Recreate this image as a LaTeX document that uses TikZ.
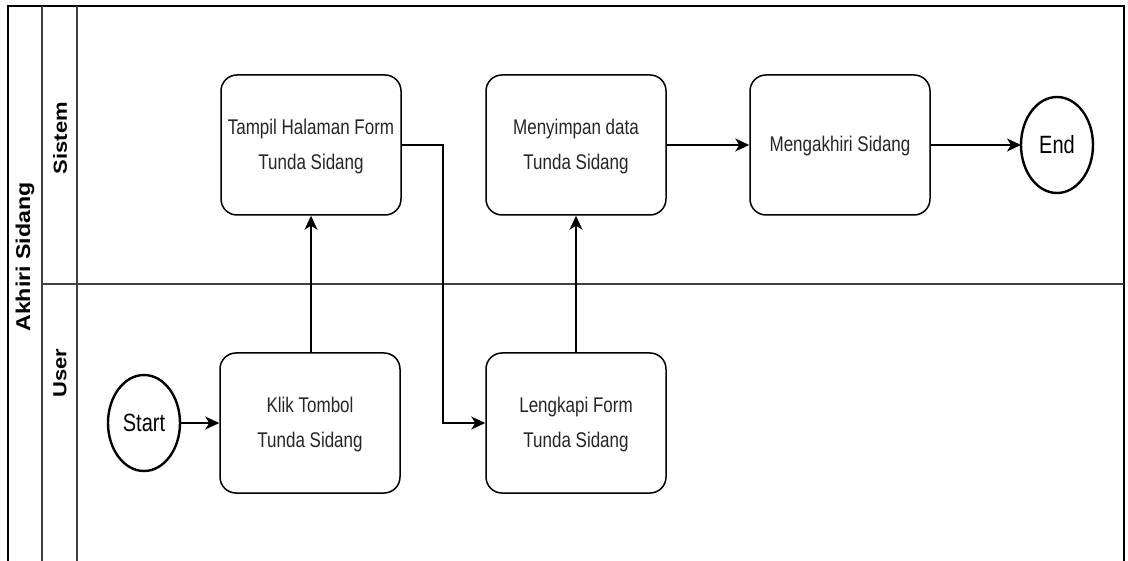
\documentclass[tikz,border=0pt]{standalone}
\usepackage{fontspec}
\setmainfont{Liberation Sans}
\usetikzlibrary{arrows.meta}
\newcommand\boxtxt[1]{\scalebox{1}[1.25]{\begin{tabular}{@{}c@{}}#1\end{tabular}}}
\newcommand\vlbl[2]{\rotatebox{90}{\scalebox{1.22}[1.05]{\fontsize{#1}{#1}\selectfont\bfseries #2}}}
\tikzset{
  x=1pt, y=-1pt,
  stepbox/.style={draw=black, line width=1.5pt, rounded corners=16pt, minimum width=180pt, minimum height=140pt, inner sep=0pt, font=\fontsize{17}{28}\selectfont, text=black!85},
  termtext/.style={inner sep=0pt, font=\fontsize{20}{20}\selectfont},
  conn/.style={line width=1.5pt, -{Stealth[length=14pt,width=13pt,inset=4pt]}},
  lane/.style={line width=2pt, draw=black!75},
}
\begin{document}
\begin{tikzpicture}
\useasboundingbox (0,0) rectangle (1128,561);
\fill[white] (0,0) rectangle (1128,561);
% pool frame
\draw[line width=2pt, black] (8,561) -- (8,6) -- (1124,6) -- (1124,561);
\draw[lane] (42,6) -- (42,561);
\draw[lane] (77,6) -- (77,561);
\draw[lane] (42,284) -- (1124,284);
% labels
\node[inner sep=0pt] (pool) at (25,257) {\vlbl{19}{Akhiri Sidang}};
\node[inner sep=0pt] (sis) at (60,138) {\vlbl{18}{Sistem}};
\node[inner sep=0pt] (usr) at (60,373) {\vlbl{18}{User}};
% terminals
\draw[line width=2.4pt] (144,423) ellipse (36pt and 48pt);
\node[termtext] (start) at (144,423) {\scalebox{1}[1.25]{Start}};
\coordinate (startE) at (180,423);
\draw[line width=2.4pt] (1057,145) ellipse (36pt and 48pt);
\node[termtext] (end) at (1057,145) {\scalebox{1}[1.25]{End}};
\coordinate (endW) at (1021,145);
% steps
\node[stepbox] (tampil) at (311,145) {\boxtxt{Tampil Halaman Form\\Tunda Sidang}};
\node[stepbox] (simpan) at (576,145) {\boxtxt{Menyimpan data\\Tunda Sidang}};
\node[stepbox] (akhiri) at (840,145) {\boxtxt{Mengakhiri Sidang}};
\node[stepbox] (klik) at (310,423) {\boxtxt{Klik Tombol\\Tunda Sidang}};
\node[stepbox] (lengkapi) at (576,423) {\boxtxt{Lengkapi Form\\Tunda Sidang}};
\coordinate (elbow) at (443,145);
% connectors
\draw[conn] (startE) -- (klik.west);
\draw[conn] (klik.north -| tampil.south) -- (tampil.south);
\draw[conn] (tampil.east) -- (elbow) |- (lengkapi.west);
\draw[conn] (lengkapi.north) -- (simpan.south);
\draw[conn] (simpan.east) -- (akhiri.west);
\draw[conn] (akhiri.east) -- (endW);
\end{tikzpicture}
\end{document}
